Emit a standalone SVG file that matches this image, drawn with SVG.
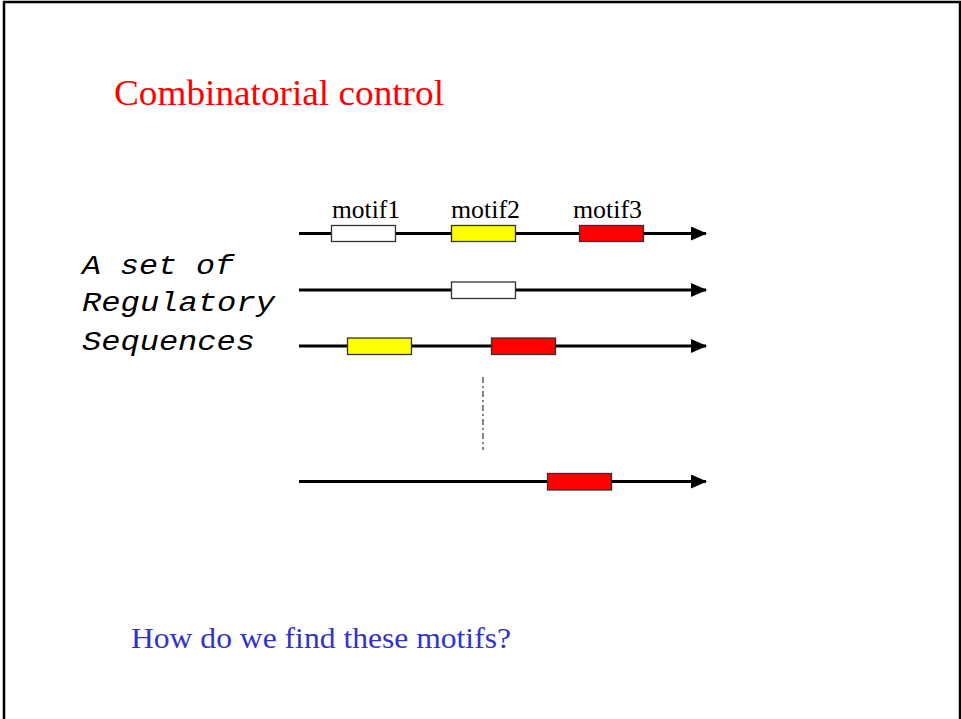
<svg xmlns="http://www.w3.org/2000/svg" width="961" height="719" viewBox="0 0 961 719">
  <style>
    .seq { stroke: #000; stroke-width: 3; fill: none; }
    .motif { stroke: #333; stroke-width: 1.3; }
    .label { font-family: "Liberation Serif", "Times New Roman", serif; font-size: 25px; fill: #000; }
    .mono { font-family: "Liberation Mono", "Courier New", monospace; font-style: italic; font-size: 27px; fill: #000; }
  </style>
  <defs>
    <marker id="arrow" viewBox="0 0 16 14" refX="15" refY="7" markerWidth="16" markerHeight="14" markerUnits="userSpaceOnUse" orient="auto">
      <path d="M0,0 L16,7 L0,14 Z" fill="#000"/>
    </marker>
  </defs>

  <rect x="0" y="0" width="961" height="719" fill="#fff"/>
  <rect x="4" y="2" width="956" height="740" fill="none" stroke="#000" stroke-width="2.5"/>

  <text x="114" y="105" font-family="Liberation Serif, Times New Roman, serif" font-size="36" fill="#ff0000" textLength="330" lengthAdjust="spacingAndGlyphs">Combinatorial control</text>

  <g id="set-label">
    <text class="mono" x="82" y="274" textLength="152" lengthAdjust="spacingAndGlyphs">A set of</text>
    <text class="mono" x="82" y="311" textLength="193" lengthAdjust="spacingAndGlyphs">Regulatory</text>
    <text class="mono" x="82" y="350" textLength="173" lengthAdjust="spacingAndGlyphs">Sequences</text>
  </g>

  <g id="connectors">
    <line class="seq" x1="299" y1="233.5" x2="706" y2="233.5" marker-end="url(#arrow)"/>
    <line class="seq" x1="299" y1="290" x2="706" y2="290" marker-end="url(#arrow)"/>
    <line class="seq" x1="299" y1="346" x2="706" y2="346" marker-end="url(#arrow)"/>
    <line class="seq" x1="299" y1="481.5" x2="706" y2="481.5" marker-end="url(#arrow)"/>
    <line x1="483" y1="377" x2="483" y2="450" stroke="#444" stroke-width="1.3" stroke-dasharray="6,3,2,3"/>
  </g>

  <g id="seq1">
    <rect class="motif" x="331.5" y="225.5" width="64" height="16" fill="#fff"/>
    <rect class="motif" x="451.5" y="225.5" width="64" height="16" fill="#ffff00"/>
    <rect class="motif" x="579.5" y="225.5" width="64" height="16" fill="#ff0000"/>
    <text class="label" x="332" y="218" textLength="68" lengthAdjust="spacingAndGlyphs">motif1</text>
    <text class="label" x="451" y="218" textLength="69" lengthAdjust="spacingAndGlyphs">motif2</text>
    <text class="label" x="573" y="218" textLength="69" lengthAdjust="spacingAndGlyphs">motif3</text>
  </g>

  <g id="seq2">
    <rect class="motif" x="451.5" y="282" width="64" height="16.5" fill="#fff"/>
  </g>

  <g id="seq3">
    <rect class="motif" x="347.5" y="338" width="64" height="16.5" fill="#ffff00"/>
    <rect class="motif" x="491.5" y="338" width="64" height="16.5" fill="#ff0000"/>
  </g>

  <g id="seq4">
    <rect class="motif" x="547.5" y="473.5" width="64" height="16.5" fill="#ff0000"/>
  </g>

  <text x="131" y="648" font-family="Liberation Serif, Times New Roman, serif" font-size="30" fill="#3333cc" textLength="380" lengthAdjust="spacingAndGlyphs">How do we find these motifs?</text>
</svg>
